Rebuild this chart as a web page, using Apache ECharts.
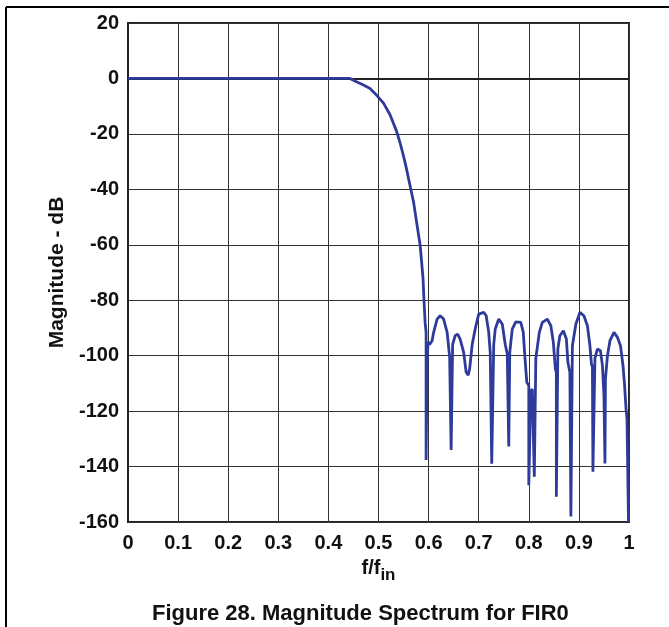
<!DOCTYPE html>
<html>
<head>
<meta charset="utf-8">
<script src="https://cdn.jsdelivr.net/npm/echarts@6/dist/echarts.min.js"></script>
<style>
  html, body { margin: 0; padding: 0; background: #fff; }
  #spectrum { width: 669px; height: 627px; }
</style>
</head>
<body>
<div id="spectrum"></div>
<script>
// normalised frequency f/fin
const freq = [
  0, 0.443, 0.456, 0.470, 0.483, 0.496, 0.510, 0.523, 0.536, 0.543,
  0.550, 0.556, 0.563, 0.570, 0.576, 0.583, 0.586, 0.589, 0.590, 0.593,
  0.595, 0.595, 0.597, 0.599, 0.602, 0.607, 0.610, 0.617, 0.623, 0.630,
  0.637, 0.642, 0.645, 0.648, 0.653, 0.658, 0.663, 0.670, 0.675, 0.679,
  0.682, 0.687, 0.693, 0.700, 0.710, 0.715, 0.720, 0.723, 0.726, 0.730,
  0.733, 0.740, 0.747, 0.753, 0.757, 0.760, 0.762, 0.767, 0.774, 0.784,
  0.789, 0.792, 0.796, 0.800, 0.800, 0.804, 0.807, 0.811, 0.814, 0.821,
  0.827, 0.837, 0.844, 0.849, 0.853, 0.855, 0.855, 0.858, 0.862, 0.869,
  0.875, 0.878, 0.882, 0.884, 0.887, 0.894, 0.902, 0.910, 0.917, 0.922,
  0.925, 0.927, 0.928, 0.932, 0.937, 0.943, 0.947, 0.950, 0.952, 0.953,
  0.957, 0.962, 0.970, 0.977, 0.983, 0.988, 0.991, 0.994, 0.996, 0.999,
  1.0
]
// magnitude in dB
const magDb = [
  0, 0, -1.2, -2.4, -3.6, -6, -8.9, -13.1, -19, -23.2,
  -28, -32.7, -38.7, -44.6, -51.8, -60, -66, -72.5, -77, -88,
  -91.6, -137.6, -102, -95, -96, -94.6, -91.6, -86.8, -85.6, -86.8,
  -91.6, -100.5, -134, -96, -92.8, -92.2, -94, -98.8, -106, -107,
  -104.7, -96, -90.4, -85, -84.4, -85.6, -91.6, -98.8, -139, -96,
  -90.4, -86.8, -88.6, -96, -99.4, -132.8, -98.8, -90.4, -87.8, -88,
  -91.6, -100, -109.6, -110.8, -146.7, -113, -112, -143.7, -101, -91.6,
  -88, -86.8, -89.2, -95.2, -104.8, -106, -150.9, -97.6, -92.8, -91,
  -94, -102.4, -106, -158, -96.4, -88.6, -84.4, -85.6, -89.2, -96.4,
  -103, -104, -141.9, -101, -97.6, -98.2, -103.6, -114.4, -138.9, -108.4,
  -100, -94.6, -91.6, -93.4, -96.4, -103.6, -110.2, -119, -122.8, -160,
  -160
]
const yTicks = [20, 0, -20, -40, -60, -80, -100, -120, -140, -160]

const chart = echarts.init(document.getElementById('spectrum'))
const font = 'Liberation Sans, Arial, sans-serif'
const option = {
  animation: false,
  title: {
    text: 'Figure 28. Magnitude Spectrum for FIR0',
    left: 147,
    top: 598,
    textStyle: { fontFamily: font, fontWeight: 'bold', fontSize: 22, color: '#111' }
  },
  grid: {
    left: 128, right: 40, top: 23, bottom: 105,
    show: true, borderColor: '#222', borderWidth: 2
  },
  xAxis: {
    type: 'value',
    min: 0, max: 1, interval: 0.1,
    name: 'f/f{sub|in}',
    nameLocation: 'middle',
    nameGap: 31,
    nameTextStyle: {
      fontFamily: font, fontWeight: 'bold', fontSize: 20, color: '#111',
      rich: { sub: { fontFamily: font, fontWeight: 'bold', fontSize: 17, color: '#111', verticalAlign: 'bottom', padding: [14, 0, 0, 0] } }
    },
    axisLine: { lineStyle: { color: '#222', width: 2 } },
    axisTick: { show: false },
    axisLabel: {
      fontFamily: font, fontWeight: 'bold', fontSize: 20, color: '#111', margin: 11,
      formatter: v => (v === 0 || v === 1) ? String(v) : v.toFixed(1)
    },
    splitLine: { lineStyle: { color: '#333', width: 1 } }
  },
  yAxis: {
    type: 'value',
    min: -160, max: 20, interval: 20,
    name: 'Magnitude - dB',
    nameLocation: 'middle',
    nameGap: 56,
    nameTextStyle: { fontFamily: font, fontWeight: 'bold', fontSize: 21, color: '#111' },
    axisLine: { show: true, lineStyle: { color: '#222', width: 2 } },
    axisTick: { show: false },
    axisLabel: {
      fontFamily: font, fontWeight: 'bold', fontSize: 20, color: '#111', margin: 9,
      formatter: v => yTicks.includes(v) ? String(v) : ''
    },
    splitLine: { lineStyle: { color: '#333', width: 1 } }
  },
  graphic: [
    { type: 'line', shape: { x1: 6, y1: 7, x2: 669, y2: 7 }, style: { stroke: '#000', lineWidth: 2 } },
    { type: 'line', shape: { x1: 6, y1: 7, x2: 6, y2: 627 }, style: { stroke: '#000', lineWidth: 2 } }
  ],
  series: [
    {
      type: 'line',
      data: freq.map((f, i) => [f, magDb[i]]),
      showSymbol: false,
      lineStyle: { color: '#2E3B9A', width: 2.8 },
      clip: true
    }
  ]
}
chart.setOption(option)
</script>
</body>
</html>
